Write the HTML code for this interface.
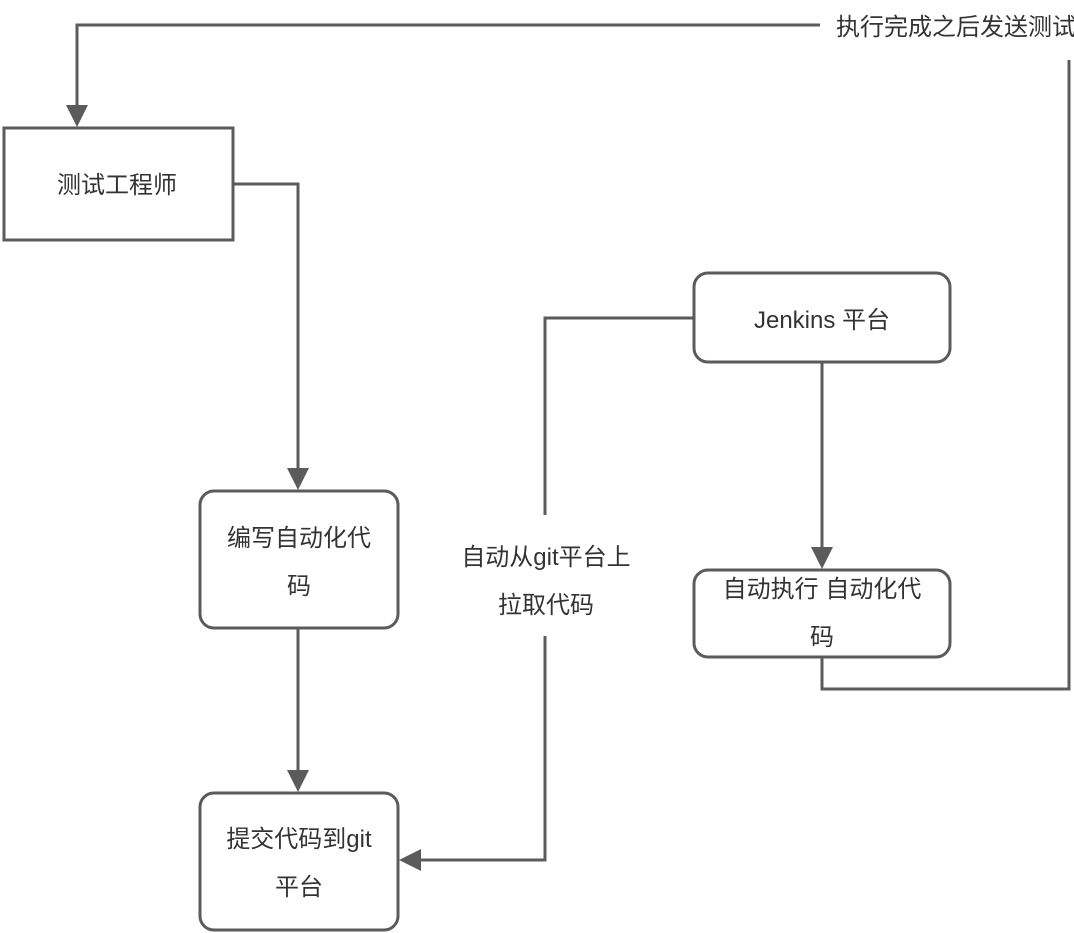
<!DOCTYPE html>
<html><head><meta charset="utf-8"><style>
html,body{margin:0;padding:0;background:#fff;width:1074px;height:933px;overflow:hidden}
svg{display:block}
text{font-family:"Liberation Sans","Noto Sans CJK SC",sans-serif;font-size:24px;fill:#333}
</style></head><body>
<svg width="1074" height="933" viewBox="0 0 1074 933" xmlns="http://www.w3.org/2000/svg">
<g fill="none" stroke="#5b5b5b" stroke-width="3">
  <!-- top feedback line -->
  <polyline points="820,25 77,25 77,108"/>
  <polyline points="822,657 822,689 1069,689 1069,60"/>
  <!-- engineer to write code -->
  <polyline points="233,184 298,184 298,470"/>
  <line x1="298" y1="628" x2="298" y2="772"/>
  <!-- jenkins pull -->
  <polyline points="694,318 545,318 545,515"/>
  <polyline points="545,636 545,860 420,860"/>
  <line x1="822" y1="362" x2="822" y2="550"/>
  <!-- boxes -->
  <rect x="4" y="128" width="229" height="112"/>
  <rect x="200" y="491" width="198" height="137" rx="14"/>
  <rect x="200" y="793" width="198" height="137" rx="14"/>
  <rect x="694" y="273" width="256" height="89" rx="14"/>
  <rect x="694" y="570" width="256" height="87" rx="14"/>
</g>
<g fill="#5b5b5b">
  <polygon points="66,105 88,105 77,127"/>
  <polygon points="287,468 309,468 298,490"/>
  <polygon points="287,770 309,770 298,792"/>
  <polygon points="811,547 833,547 822,569"/>
  <polygon points="421,849 421,871 399,860"/>
</g>
<g text-anchor="middle">
  <text x="117" y="193">测试工程师</text>
  <text x="299" y="546">编写自动化代</text>
  <text x="299" y="594">码</text>
  <text x="299" y="847">提交代码到git</text>
  <text x="299" y="895">平台</text>
  <text x="822" y="328">Jenkins 平台</text>
  <text x="822" y="597">自动执行 自动化代</text>
  <text x="822" y="645">码</text>
  <text x="546" y="565">自动从git平台上</text>
  <text x="546" y="613">拉取代码</text>
</g>
<text x="836" y="35">执行完成之后发送测试报告</text>
</svg>
</body></html>
